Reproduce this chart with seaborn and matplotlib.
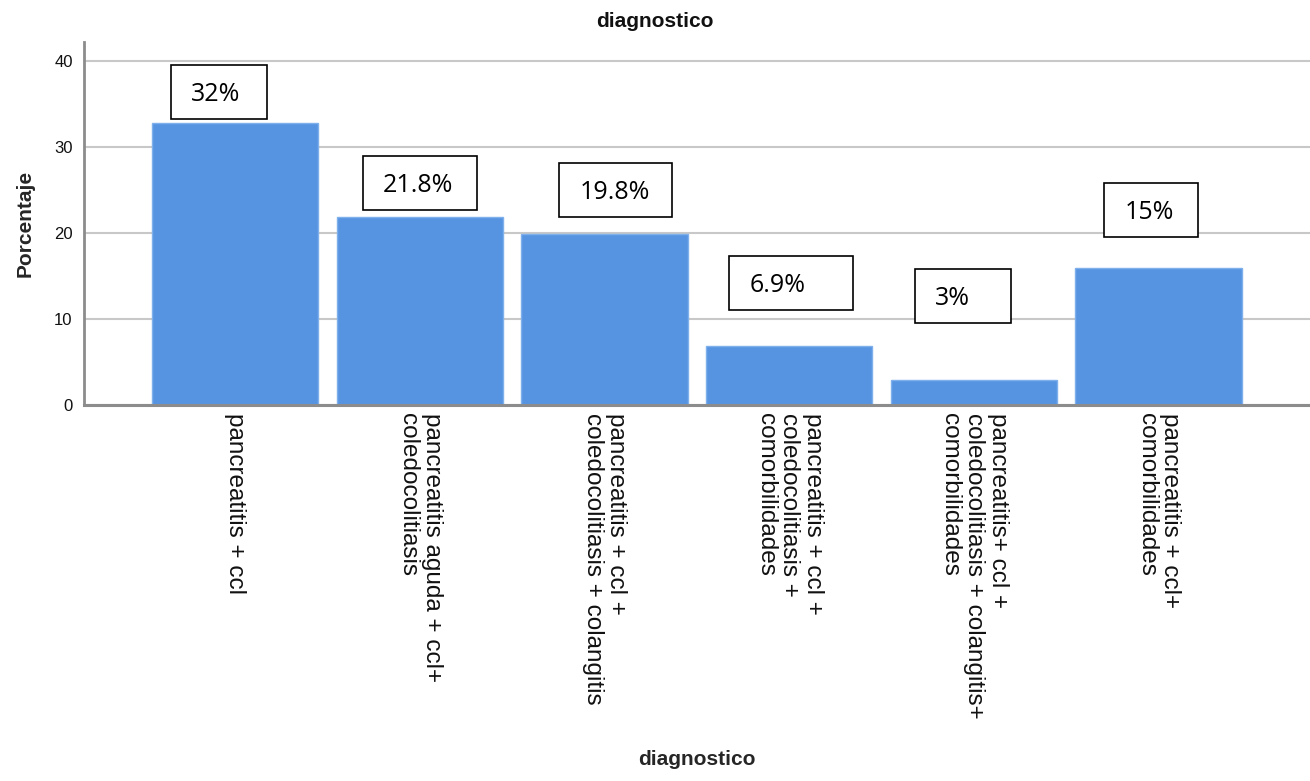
import matplotlib
matplotlib.use("Agg")
import matplotlib.pyplot as plt
import pandas as pd
import seaborn as sns
from matplotlib.patches import Rectangle

categories = [
    "pancreatitis + ccl",
    "pancreatitis aguda + ccl+\ncoledocolitiasis",
    "pancreatitis + ccl +\ncoledocolitiasis + colangitis",
    "pancreatitis + ccl +\ncoledocolitiasis +\ncomorbilidades",
    "pancreatitis+ ccl +\ncoledocolitiasis + colangitis+\ncomorbilidades",
    "pancreatitis + ccl+\ncomorbilidades",
]
percent = [32.8, 21.9, 19.9, 6.9, 2.9, 15.9]
box_labels = ["32%", "21.8%", "19.8%", "6.9%", "3%", "15%"]

# label box layout (offset from bar centre, box centre height, box width)
box_dx = [-0.09, 0.0, 0.06, 0.01, -0.06, -0.04]
box_y = [36.4, 25.8, 25.0, 14.2, 12.7, 22.7]
box_w = [0.52, 0.62, 0.61, 0.67, 0.52, 0.51]
box_h = 6.3

BLUE = "#5694e2"
GRID = "#c8c8c8"
AXIS = "#8c8c8c"

sns.set_style("white")
plt.rcParams["font.family"] = ["Liberation Sans", "DejaVu Sans"]

df = pd.DataFrame({"diagnostico": categories, "Porcentaje": percent})

fig = plt.figure(figsize=(13.1, 7.81), dpi=100)
ax = fig.add_axes([0.064, 0.4814, 0.936, 0.4648])

sns.barplot(data=df, x="diagnostico", y="Porcentaje", color=BLUE,
            saturation=1, width=0.9, edgecolor="#7fb0ec", linewidth=1, ax=ax, zorder=3)

ax.set_xlim(-0.82, 5.82)
ax.set_ylim(0, 42.2)
ax.set_yticks([0, 10, 20, 30, 40])
ax.yaxis.grid(True, color=GRID, linewidth=1.5, zorder=0)
ax.set_axisbelow(True)

for side in ["top", "right"]:
    ax.spines[side].set_visible(False)
ax.spines["left"].set_color(AXIS)
ax.spines["left"].set_linewidth(2)
ax.spines["bottom"].set_color(AXIS)
ax.spines["bottom"].set_linewidth(2.2)
ax.spines["bottom"].set_zorder(5)

ax.tick_params(axis="y", labelsize=12, length=0, pad=8, colors="#111111")
ax.tick_params(axis="x", length=0, pad=6)
for t in ax.get_xticklabels():
    t.set_rotation(270)
    t.set_fontsize(17.5)
    t.set_color("#111111")
    t.set_va("top")
    t.set_ha("center")
    t.set_multialignment("left")
    t.set_linespacing(1.1)

ax.set_xlabel("diagnostico", fontsize=15, fontweight="bold")
ax.set_ylabel("Porcentaje", fontsize=15, fontweight="bold", labelpad=14)
ax.xaxis.set_label_coords(0.5, -0.95)
fig.suptitle("diagnostico", fontsize=15, fontweight="bold", y=0.985, color="#111111")

for i, lab in enumerate(box_labels):
    cx = i + box_dx[i]
    x0 = cx - box_w[i] / 2
    ax.add_patch(Rectangle((x0, box_y[i] - box_h / 2), box_w[i], box_h,
                           facecolor="white", edgecolor="black", linewidth=1.2,
                           zorder=6, clip_on=False))
    ax.text(x0 + 0.11, box_y[i] - 0.3, lab, fontsize=18, ha="left", va="center",
            family=["Open Sans", "DejaVu Sans"], color="black", zorder=7)

fig.savefig("out.png", dpi=100)
